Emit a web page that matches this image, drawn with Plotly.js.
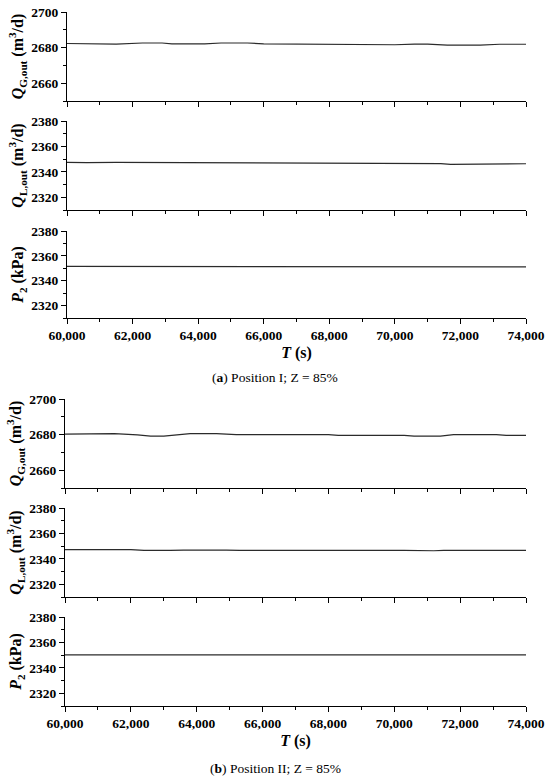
<!DOCTYPE html>
<html>
<head>
<meta charset="utf-8">
<script src="https://cdn.plot.ly/plotly-3.0.1.min.js"></script>
<style>
  html, body { margin: 0; padding: 0; background: #fff; }
  #graph1 { width: 550px; height: 778px; }
</style>
</head>
<body>
<div id="graph1"></div>
<script>
// (a) Position I; Z = 85%
let tGasA = [60000, 60600, 61500, 62300, 62900, 63200, 64200, 64700, 65500, 66000, 67000, 68000, 69000, 70000, 70600, 71000, 71600, 72600, 73200, 74000];
let qGasA = [2682.3, 2682.2, 2682.0, 2682.6, 2682.6, 2682.1, 2682.1, 2682.6, 2682.6, 2682.1, 2682.0, 2682.0, 2681.7, 2681.6, 2682.0, 2682.0, 2681.4, 2681.4, 2681.9, 2681.9];
let tLiqA = [60000, 60600, 61500, 62600, 64000, 65800, 68000, 71400, 71700, 72400, 72700, 74000];
let qLiqA = [2347.4, 2347.2, 2347.5, 2347.4, 2347.2, 2346.6, 2346.5, 2346.5, 2345.9, 2345.9, 2346.4, 2346.4];
let tPresA = [60000, 61600, 61800, 74000];
let pPresA = [2351.5, 2351.5, 2351.1, 2351.1];

// (b) Position II; Z = 85%
let tGasB = [60000, 60900, 61500, 62200, 62600, 63000, 63800, 64600, 65200, 68000, 68300, 70300, 70600, 71400, 71800, 73100, 73400, 74000];
let qGasB = [2680.3, 2680.6, 2680.5, 2679.8, 2679.1, 2679.1, 2680.5, 2680.5, 2680.0, 2680.0, 2679.6, 2679.6, 2679.1, 2679.1, 2680.0, 2680.0, 2679.6, 2679.6];
let tLiqB = [60000, 60600, 60900, 61200, 61500, 62000, 62400, 63200, 63600, 64900, 65300, 70300, 70700, 71200, 71500, 74000];
let qLiqB = [2347.2, 2347.3, 2347.7, 2347.7, 2347.3, 2347.2, 2346.7, 2346.7, 2346.9, 2346.9, 2346.6, 2346.6, 2346.4, 2346.4, 2346.6, 2346.6];
let tPresB = [60000, 74000];
let pPresB = [2350.2, 2350.2];

let xRange = [60000, 74000];
let xTicks = [60000, 62000, 64000, 66000, 68000, 70000, 72000, 74000];
let gasRange = [2650, 2700];
let lowRange = [2310, 2380];

let titleGas = '<i>Q</i><sub>G,out</sub> (m<sup>3</sup>/d)';
let titleLiq = '<i>Q</i><sub>L,out</sub> (m<sup>3</sup>/d)';
let titlePres = '<i>P</i><sub>2</sub> (kPa)';
let titleT = '<i>T</i> (s)';
let captionA = '(<b>a</b>) Position I; Z = 85%';
let captionB = '(<b>b</b>) Position II; Z = 85%';

const H = 778, W = 550;
const serif = 'Liberation Serif, Times New Roman, serif';

// panel boxes in pixels: [left, right, top, bottom]
let panels = [
  {t: tGasA, y: qGasA, box: [67, 526, 12, 101], range: gasRange, tick0: 2660, title: titleGas, last: false},
  {t: tLiqA, y: qLiqA, box: [67, 526, 121, 210], range: lowRange, tick0: 2300, title: titleLiq, last: false},
  {t: tPresA, y: pPresA, box: [67, 526, 231, 318], range: lowRange, tick0: 2300, title: titlePres, last: true},
  {t: tGasB, y: qGasB, box: [65, 526, 399, 488], range: gasRange, tick0: 2660, title: titleGas, last: false},
  {t: tLiqB, y: qLiqB, box: [65, 526, 508, 597], range: lowRange, tick0: 2300, title: titleLiq, last: false},
  {t: tPresB, y: pPresB, box: [65, 526, 617, 706], range: lowRange, tick0: 2300, title: titlePres, last: true}
];

let data = [];
let layout = {
  width: W, height: H,
  margin: {l: 0, r: 0, t: 0, b: 0},
  paper_bgcolor: '#fff', plot_bgcolor: '#fff',
  showlegend: false,
  font: {family: serif, color: '#000'},
  annotations: [
    {text: captionA, xref: 'paper', yref: 'paper', x: 275 / W, y: 1 - 377 / H, showarrow: false,
     xanchor: 'center', yanchor: 'middle', font: {family: serif, size: 13.5, color: '#000'}},
    {text: captionB, xref: 'paper', yref: 'paper', x: 275 / W, y: 1 - 768 / H, showarrow: false,
     xanchor: 'center', yanchor: 'middle', font: {family: serif, size: 13.5, color: '#000'}}
  ]
};

panels.forEach(function(p, i) {
  let n = i + 1;
  let xa = n === 1 ? 'x' : 'x' + n;
  let ya = n === 1 ? 'y' : 'y' + n;
  data.push({
    x: p.t, y: p.y, xaxis: xa, yaxis: ya,
    type: 'scatter', mode: 'lines',
    line: {color: '#2b2b2b', width: 1.2},
    hoverinfo: 'skip'
  });
  let xaxis = {
    domain: [p.box[0] / W, p.box[1] / W],
    anchor: ya,
    range: xRange,
    tickvals: xTicks,
    tickformat: ',d',
    showticklabels: p.last,
    ticks: 'outside', ticklen: 5, tickwidth: 1, tickcolor: '#000',
    minor: {dtick: 1000, tick0: 60000, ticks: 'outside', ticklen: 3, tickwidth: 1, tickcolor: '#000', showgrid: false},
    showline: true, linecolor: '#000', linewidth: 1,
    showgrid: false, zeroline: false,
    tickfont: {family: serif, size: 13.5, weight: 'bold', color: '#000'}
  };
  if (p.last) {
    xaxis.title = {text: titleT, standoff: 4, font: {family: serif, size: 16, weight: 'bold', color: '#000'}};
  }
  layout['xaxis' + (n === 1 ? '' : n)] = xaxis;
  layout['yaxis' + (n === 1 ? '' : n)] = {
    domain: [1 - p.box[3] / H, 1 - p.box[2] / H],
    anchor: xa,
    range: [p.range[0], p.range[1] + 0.01],
    tick0: p.tick0, dtick: 20,
    ticks: 'outside', ticklen: 5, tickwidth: 1, tickcolor: '#000',
    minor: {dtick: 10, ticks: 'outside', ticklen: 3, tickwidth: 1, tickcolor: '#000', showgrid: false},
    showline: true, linecolor: '#000', linewidth: 1,
    showgrid: false, zeroline: false,
    tickfont: {family: serif, size: 13.5, weight: 'bold', color: '#000'},
    title: {text: p.title, standoff: 3, font: {family: serif, size: 16, weight: 'bold', color: '#000'}}
  };
});

Plotly.newPlot('graph1', data, layout, {staticPlot: true, displayModeBar: false});
</script>
</body>
</html>
